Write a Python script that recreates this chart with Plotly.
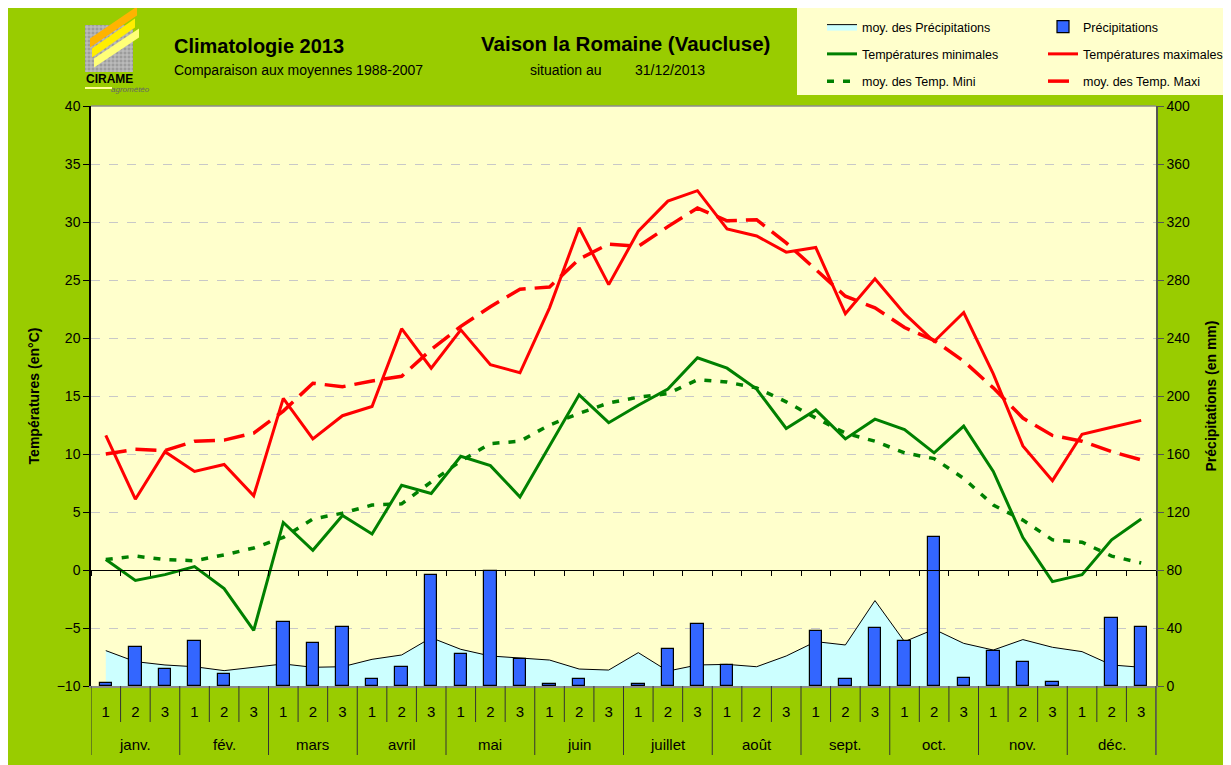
import plotly.graph_objects as go

# ---------------- data ----------------
months = ["janv.", "fév.", "mars", "avril", "mai", "juin", "juillet", "août",
          "sept.", "oct.", "nov.", "déc."]
decade_labels = ["1", "2", "3"]

tmax = [11.6, 6.1, 10.2, 8.5, 9.1, 6.4, 14.8, 11.3, 13.3, 14.1, 20.8, 17.4,
        20.7, 17.7, 17.0, 22.6, 29.5, 24.6, 29.2, 31.8, 32.7, 29.4, 28.8, 27.4,
        27.8, 22.1, 25.1, 22.1, 19.7, 22.2, 16.9, 10.7, 7.7, 11.7, 12.3, 12.9]
tmax_avg = [10.0, 10.4, 10.3, 11.1, 11.2, 11.8, 13.7, 16.1, 15.8, 16.3, 16.7, 19.0,
            21.0, 22.7, 24.2, 24.4, 26.8, 28.1, 27.9, 29.6, 31.2, 30.1, 30.2, 28.2,
            25.9, 23.6, 22.6, 20.9, 19.8, 18.0, 15.7, 13.1, 11.6, 11.1, 10.2, 9.5]
tmin = [0.9, -0.9, -0.4, 0.3, -1.6, -5.2, 4.1, 1.7, 4.7, 3.1, 7.3, 6.6,
        9.8, 9.0, 6.3, 10.7, 15.1, 12.7, 14.2, 15.6, 18.3, 17.4, 15.6, 12.2,
        13.8, 11.3, 13.0, 12.1, 10.1, 12.4, 8.5, 2.8, -1.0, -0.4, 2.6, 4.4]
tmin_avg = [0.9, 1.2, 0.9, 0.8, 1.3, 1.9, 2.8, 4.4, 4.9, 5.6, 5.7, 7.6,
            9.4, 10.9, 11.1, 12.5, 13.5, 14.4, 14.9, 15.2, 16.4, 16.2, 15.7, 14.5,
            13.1, 11.8, 11.1, 10.1, 9.6, 7.9, 5.6, 4.3, 2.6, 2.4, 1.2, 0.6]
# None = no rain recorded (no bar drawn)
precip = [2, 27, 11.5, 31, 8.5, None, 44, 30, 41, 4.5, 13, 76.5,
          22, 79.5, 18.5, 1.5, 4.5, None, 1.5, 25.5, 42.5, 14.5, None, None,
          38, 5, 40, 31, 103, 5.5, 24, 16.5, 2.5, None, 47, 41]
precip_avg = [24.4, 16.8, 14.5, 13.3, 10.6, 12.9, 15.2, 12.9, 13.3, 18.4, 21.4, 33.3,
              25.3, 20.7, 19.5, 17.9, 11.7, 11.0, 23.0, 10.3, 14.5, 14.9, 13.3, 20.7,
              30.6, 28.3, 58.9, 30.6, 39.1, 29.4, 24.8, 32.0, 26.7, 23.7, 14.5, 12.9]

n = len(tmax)
x = list(range(n))
ticktext = [decade_labels[i % 3] for i in range(n)]

# ---------------- layout helpers (page pixel coords; page has 8px body margin) ----
OFF = 8
W, H = 1231 - OFF, 765 - OFF
L, R, T, B = 91, 1156, 106, 686          # plot area in page pixels
def fx(px):
    return (px - L) / (R - L)
def fy(py):
    return (B - py) / (B - T)

GREEN_BG = "#99CC00"
PLOT_BG = "#FFFFCC"
FONT = "Liberation Sans, Arial, sans-serif"
P_RANGE = [0, 400]
T_RANGE = [-10, 40]

fig = go.Figure()

# precipitation average area (main y axis, right side)
fig.add_trace(go.Scatter(
    x=x, y=precip_avg, name="moy. des Précipitations", mode="lines",
    line=dict(color="black", width=1), fill="tozeroy", fillcolor="#CCFFFF",
    xaxis="x", yaxis="y", legend="legend", legendgroup="a", hoverinfo="skip"))
# precipitation bars (overlaid y2, same scale, drawn above the area)
fig.add_trace(go.Bar(
    x=x, y=precip, name="Précipitations", width=0.42,
    marker=dict(color="#3366FF", line=dict(color="black", width=1.2)),
    xaxis="x", yaxis="y2", legend="legend2", legendgroup="b", hoverinfo="skip"))

# temperatures (overlaid y3 axis, left side)
fig.add_trace(go.Scatter(
    x=x, y=tmin, name="Températures minimales", mode="lines",
    line=dict(color="#008000", width=3), xaxis="x", yaxis="y3",
    legend="legend", legendgroup="c", hoverinfo="skip"))
fig.add_trace(go.Scatter(
    x=x, y=tmax, name="Températures maximales", mode="lines",
    line=dict(color="#FF0000", width=3), xaxis="x", yaxis="y3",
    legend="legend2", legendgroup="d", hoverinfo="skip"))
fig.add_trace(go.Scatter(
    x=x, y=tmin_avg, name="moy. des Temp. Mini", mode="lines",
    line=dict(color="#008000", width=3.5, dash="7px,9px"), xaxis="x", yaxis="y3",
    legend="legend", legendgroup="e", hoverinfo="skip"))
fig.add_trace(go.Scatter(
    x=x, y=tmax_avg, name="moy. des Temp. Maxi", mode="lines",
    line=dict(color="#FF0000", width=3.5, dash="21px,9px"), xaxis="x", yaxis="y3",
    legend="legend2", legendgroup="f", hoverinfo="skip"))

# helper trace so the 0°C category axis is drawn
fig.add_trace(go.Scatter(x=[0], y=[None], xaxis="x2", yaxis="y3",
                         showlegend=False, hoverinfo="skip"))

shapes = []
# legend box
shapes.append(dict(type="rect", xref="paper", yref="paper", x0=fx(797), x1=fx(1240),
                   y0=fy(95), y1=fy(8), fillcolor=PLOT_BG, line=dict(width=0)))
# plot top border
shapes.append(dict(type="line", xref="paper", yref="paper", x0=0, x1=1, y0=1, y1=1,
                   line=dict(color="#8c8c8c", width=1.5)))
# category separators (decades, months)
for b in range(n + 1):
    xb = b - 0.5
    y_end = fy(755) if b % 3 == 0 else fy(722)
    shapes.append(dict(type="line", xref="x", yref="paper", x0=xb, x1=xb,
                       y0=0, y1=y_end, line=dict(color="#333333", width=1)))
# right axis extension below plot
shapes.append(dict(type="line", xref="paper", yref="paper", x0=1, x1=1,
                   y0=0, y1=fy(755), line=dict(color="#555555", width=1.5)))

# ---- logo ----
shapes.append(dict(type="rect", xref="paper", yref="paper", x0=fx(85), x1=fx(133),
                   y0=fy(72), y1=fy(25), fillcolor="#9c9c9c", line=dict(width=0)))
for k in range(12):
    gx = 87 + k * 4
    shapes.append(dict(type="line", xref="paper", yref="paper", x0=fx(gx), x1=fx(gx),
                       y0=fy(72), y1=fy(25), line=dict(color="#c4c4c4", width=1)))
    gy = 27 + k * 4
    if gy < 72:
        shapes.append(dict(type="line", xref="paper", yref="paper", x0=fx(85), x1=fx(133),
                           y0=fy(gy), y1=fy(gy), line=dict(color="#c4c4c4", width=1)))
def band(p0, p1, thick, color):
    (ax, ay), (bx, by) = p0, p1
    pts = [(ax, ay - thick / 2), (bx, by - thick / 2), (bx, by + thick / 2), (ax, ay + thick / 2)]
    path = "M " + " L ".join(f"{fx(px):.5f},{fy(py):.5f}" for px, py in pts) + " Z"
    return dict(type="path", xref="paper", yref="paper", path=path,
                fillcolor=color, line=dict(width=0))
shapes.append(band((90, 43), (137, 11), 9, "#FFB300"))
shapes.append(band((92, 53), (135, 23), 9, "#FFEE00"))
shapes.append(band((94, 63), (139, 33), 9, "#FFFF77"))
shapes.append(dict(type="line", xref="paper", yref="paper", x0=fx(85), x1=fx(112),
                   y0=fy(88), y1=fy(88), line=dict(color="#FFFF99", width=2)))

annotations = []
for k, m in enumerate(months):
    annotations.append(dict(x=3 * k + 1, y=fy(744), xref="x", yref="paper", text=m,
                            showarrow=False, font=dict(family=FONT, size=15, color="black"),
                            xanchor="center", yanchor="middle"))
annotations += [
    dict(x=fx(109), y=fy(79), xref="paper", yref="paper", text="<b>CIRAME</b>",
         showarrow=False, xanchor="center", yanchor="middle",
         font=dict(family=FONT, size=12, color="black")),
    dict(x=fx(130), y=fy(90), xref="paper", yref="paper", text="<i>agrométéo</i>",
         showarrow=False, xanchor="center", yanchor="middle",
         font=dict(family=FONT, size=8, color="#666666")),
    dict(x=fx(172), y=fy(46), xref="paper", yref="paper", text="<b>Climatologie 2013</b>",
         showarrow=False, xanchor="left", yanchor="middle",
         font=dict(family=FONT, size=20, color="black")),
    dict(x=fx(172), y=fy(70), xref="paper", yref="paper",
         text="Comparaison aux moyennes 1988-2007",
         showarrow=False, xanchor="left", yanchor="middle",
         font=dict(family=FONT, size=14, color="black")),
    dict(x=fx(625), y=fy(44), xref="paper", yref="paper",
         text="<b>Vaison la Romaine (Vaucluse)</b>",
         showarrow=False, xanchor="center", yanchor="middle",
         font=dict(family=FONT, size=20.5, color="black")),
    dict(x=fx(528), y=fy(70), xref="paper", yref="paper", text="situation au",
         showarrow=False, xanchor="left", yanchor="middle",
         font=dict(family=FONT, size=14, color="black")),
    dict(x=fx(633), y=fy(70), xref="paper", yref="paper", text="31/12/2013",
         showarrow=False, xanchor="left", yanchor="middle",
         font=dict(family=FONT, size=14, color="black")),
]

legend_common = dict(orientation="v", bgcolor="rgba(0,0,0,0)", borderwidth=0,
                     font=dict(family=FONT, size=12.5, color="black"),
                     xanchor="left", yanchor="top", tracegroupgap=8,
                     traceorder="grouped", itemclick=False, itemdoubleclick=False)

fig.update_layout(
    width=W, height=H,
    margin=dict(l=L - OFF, r=W - (R - OFF), t=T - OFF, b=H - (B - OFF), autoexpand=False),
    paper_bgcolor=GREEN_BG, plot_bgcolor=PLOT_BG,
    bargap=0,
    showlegend=True,
    legend=dict(x=fx(822), y=fy(12), **legend_common),
    legend2=dict(x=fx(1043), y=fy(12), **legend_common),
    xaxis=dict(range=[-0.5, n - 0.5], tickmode="array", tickvals=x, ticktext=ticktext,
               ticks="outside", ticklen=11, tickcolor="rgba(0,0,0,0)",
               tickfont=dict(family=FONT, size=15, color="black"),
               showline=True, linecolor="#8c8c8c", linewidth=1.5,
               showgrid=False, zeroline=False, anchor="y", fixedrange=True),
    xaxis2=dict(range=[-0.5, n - 0.5], overlaying="x", anchor="free", position=fy(570),
                tickmode="array", tickvals=[b - 0.5 for b in range(n + 1)],
                ticks="outside", ticklen=5, tickcolor="black", tickwidth=1,
                showticklabels=False, showline=True, linecolor="black", linewidth=1.2,
                showgrid=False, zeroline=False, fixedrange=True),
    yaxis=dict(range=P_RANGE, tickmode="linear", tick0=0, dtick=40, side="right",
               ticks="outside", ticklen=6, tickcolor="#555555",
               showline=True, linecolor="#555555", linewidth=1.5,
               showgrid=False, zeroline=False,
               tickfont=dict(family=FONT, size=14, color="black"),
               title=dict(text="<b>Précipitations (en mm)</b>", standoff=17,
                          font=dict(family=FONT, size=14, color="black")),
               fixedrange=True),
    yaxis2=dict(range=P_RANGE, overlaying="y", side="right", visible=False,
                showgrid=False, zeroline=False, fixedrange=True),
    yaxis3=dict(range=T_RANGE, tickmode="linear", tick0=-10, dtick=5, side="left",
                overlaying="y", anchor="x",
                ticks="outside", ticklen=6, tickcolor="black",
                showline=True, linecolor="black", linewidth=1.5,
                showgrid=True, gridcolor="#c8c8c8", griddash="dash", gridwidth=1,
                zeroline=False,
                tickfont=dict(family=FONT, size=14, color="black"),
                title=dict(text="<b>Températures (en°C)</b>", standoff=14,
                           font=dict(family=FONT, size=14, color="black")),
                fixedrange=True),
    shapes=shapes,
    annotations=annotations,
)

fig.write_html("out.html")
